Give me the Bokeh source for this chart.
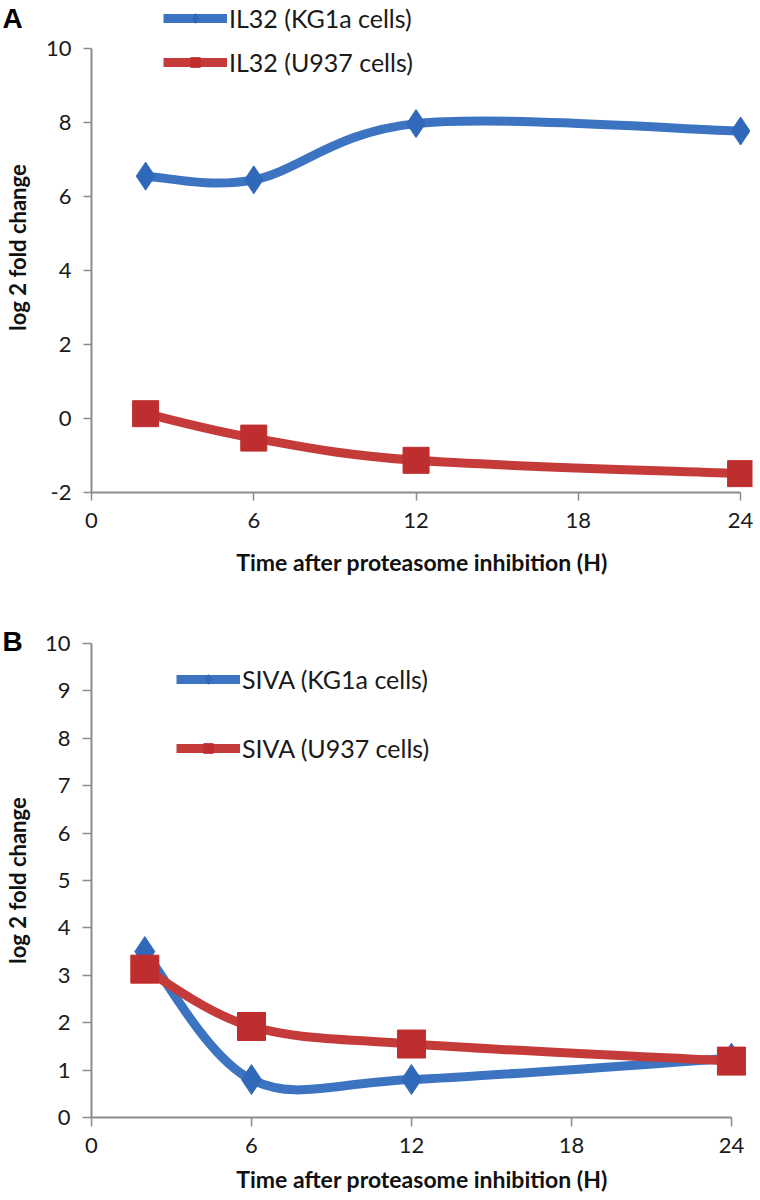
from bokeh.plotting import figure
from bokeh.layouts import column
from bokeh.models import (Range1d, FixedTicker, Legend, LegendItem, Title,
                          ColumnDataSource)
from bokeh.embed import file_html
from bokeh.resources import INLINE

# ---- data ----
hours = [2, 6, 12, 24]
il32_kg1a = [6.55, 6.45, 7.97, 7.77]
il32_u937 = [0.13, -0.53, -1.13, -1.49]
siva_kg1a = [3.5, 0.80, 0.80, 1.25]
siva_u937 = [3.13, 1.92, 1.55, 1.19]

x_ticks = [0, 6, 12, 18, 24]
a_y_ticks = [-2, 0, 2, 4, 6, 8, 10]
b_y_ticks = [0, 1, 2, 3, 4, 5, 6, 7, 8, 9, 10]

x_title = "Time after proteasome inhibition (H)"
y_title = "log 2 fold change"

BLUE = "#3d74c2"
BLUE_M = "#3169ba"
RED = "#c53b3a"
RED_M = "#bf2e2e"

FONT = "Lato"


def smooth_source(xs, ys):
    """Bezier control points (Catmull-Rom style, like Excel smoothed lines)."""
    n = len(xs)
    d = dict(x0=[], y0=[], x1=[], y1=[], cx0=[], cy0=[], cx1=[], cy1=[])
    for i in range(n - 1):
        pxp, pyp = (xs[i - 1], ys[i - 1]) if i > 0 else (xs[i], ys[i])
        pxn, pyn = (xs[i + 2], ys[i + 2]) if i + 2 < n else (xs[i + 1], ys[i + 1])
        d["x0"].append(xs[i]); d["y0"].append(ys[i])
        d["x1"].append(xs[i + 1]); d["y1"].append(ys[i + 1])
        d["cx0"].append(xs[i] + (xs[i + 1] - pxp) / 6.0)
        d["cy0"].append(ys[i] + (ys[i + 1] - pyp) / 6.0)
        d["cx1"].append(xs[i + 1] - (pxn - xs[i]) / 6.0)
        d["cy1"].append(ys[i + 1] - (pyn - ys[i]) / 6.0)
    return ColumnDataSource(d)


def make_panel(width, height, xr, yr, yticks, ybounds, borders, series, tick_out,
               ylab_standoff, xlab_standoff, xtick_standoff,
               legend_loc, legend_spacing, letter, letter_offset, letter_standoff):
    p = figure(width=width, height=height, output_backend="svg", toolbar_location=None,
               x_range=Range1d(*xr), y_range=Range1d(*yr))
    p.min_border_left, p.min_border_right, p.min_border_top, p.min_border_bottom = borders
    p.outline_line_color = None
    p.grid.visible = False
    p.background_fill_color = "white"
    p.border_fill_color = "white"

    for ax in (p.xaxis[0], p.yaxis[0]):
        ax.axis_line_color = "#8c8c8c"
        ax.axis_line_width = 2
        ax.major_tick_line_color = "#8c8c8c"
        ax.major_tick_line_width = 1.5
        ax.major_tick_out = tick_out
        ax.major_tick_in = 0
        ax.minor_tick_line_color = None
        ax.major_label_text_font = FONT
        ax.major_label_text_font_size = "22px"
        ax.major_label_text_color = "#1a1a1a"
        ax.axis_label_text_color = "#111111"
        ax.axis_label_text_font = FONT
        ax.axis_label_text_font_style = "bold"
        ax.axis_label_text_font_size = "23px"

    p.xaxis.ticker = FixedTicker(ticks=x_ticks)
    p.xaxis.bounds = (0, 24)
    p.xaxis.axis_label = x_title
    p.xaxis.major_label_standoff = xtick_standoff
    p.xaxis.axis_label_standoff = xlab_standoff

    p.yaxis.ticker = FixedTicker(ticks=yticks)
    p.yaxis.major_label_overrides = {t: str(t) for t in yticks}
    p.yaxis.bounds = ybounds
    p.yaxis.axis_label = y_title
    p.yaxis.axis_label_text_font_size = "22px"
    p.yaxis.major_label_standoff = 12
    p.yaxis.axis_label_standoff = ylab_standoff

    items = []
    for name, ys, lc, mc, marker, msize in series:
        src = smooth_source(hours, ys)
        curve = p.bezier(x0="x0", y0="y0", x1="x1", y1="y1", cx0="cx0", cy0="cy0",
                         cx1="cx1", cy1="cy1", source=src, line_color=lc, line_width=9)
        pts = p.scatter(hours, ys, marker=marker, size=msize, fill_color=mc,
                        line_color=mc, line_width=1)
        items.append(LegendItem(label=name, renderers=[curve, pts]))

    leg = Legend(items=items, location=legend_loc, orientation="vertical")
    leg.background_fill_alpha = 0
    leg.border_line_alpha = 0
    leg.padding = 0
    leg.margin = 0
    leg.spacing = legend_spacing
    leg.glyph_width = 64
    leg.glyph_height = 24
    leg.label_standoff = 2
    leg.label_text_font = FONT
    leg.label_text_font_size = "25px"
    leg.label_text_color = "#1a1a1a"
    leg.label_height = 24
    p.add_layout(leg, "center")

    t = Title(text=letter, align="left", offset=letter_offset, vertical_align="bottom",
              standoff=letter_standoff, text_font="Liberation Sans",
              text_font_style="bold", text_font_size="28px", text_color="black")
    p.add_layout(t, "above")
    return p


# ---- panel A ----
pa = make_panel(
    width=756, height=600,
    xr=(0, 24.44), yr=(-2, 11.243), yticks=a_y_ticks, ybounds=(-2, 10),
    borders=(91, 4, 2, 108),
    series=[("IL32 (KG1a cells)", il32_kg1a, BLUE, BLUE_M, "diamond", 28),
            ("IL32 (U937 cells)", il32_u937, RED, RED_M, "square", 26)],
    tick_out=8, ylab_standoff=12, xlab_standoff=17, xtick_standoff=12,
    legend_loc=(72, 415), legend_spacing=14,
    letter="\nA", letter_offset=-89, letter_standoff=-63)

# ---- panel B ----
pb = make_panel(
    width=756, height=600,
    xr=(0, 24.79), yr=(0, 10), yticks=b_y_ticks, ybounds=(0, 10),
    borders=(91, 4, 43, 83),
    series=[("SIVA (KG1a cells)", siva_kg1a, BLUE, BLUE_M, "diamond", 30),
            ("SIVA (U937 cells)", siva_u937, RED, RED_M, "square", 28)],
    tick_out=9, ylab_standoff=11, xlab_standoff=9, xtick_standoff=11,
    legend_loc=(85, 354), legend_spacing=39,
    letter="B", letter_offset=-89, letter_standoff=-26)

layout = column(pa, pb, spacing=0)
open("out.html", "w").write(file_html(layout, INLINE))
